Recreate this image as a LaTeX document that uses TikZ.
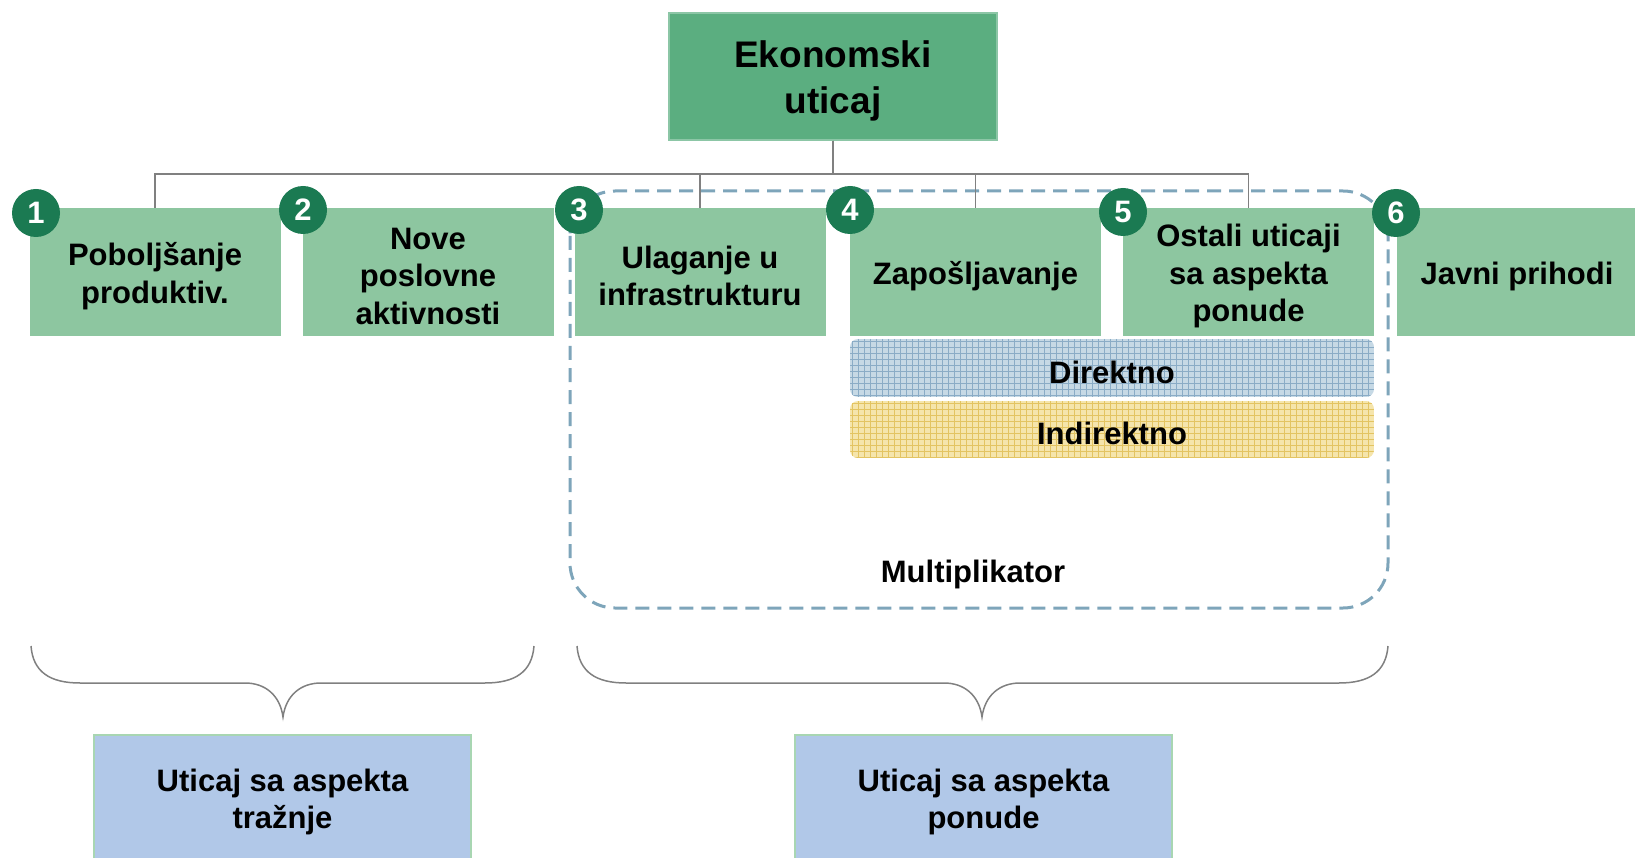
\documentclass[tikz,border=0pt]{standalone}
\usepackage{fontspec}
\setmainfont{Liberation Sans}
\definecolor{topgreen}{RGB}{91,174,128}
\definecolor{boxgreen}{RGB}{141,198,160}
\definecolor{badgegreen}{RGB}{27,122,82}
\definecolor{dashcol}{RGB}{126,165,186}
\definecolor{bluebox}{RGB}{177,200,232}
\definecolor{blueborder}{RGB}{168,214,178}
\definecolor{dirbase}{RGB}{198,217,229}
\definecolor{dirgrid}{RGB}{138,172,198}
\definecolor{indbase}{RGB}{245,229,172}
\definecolor{indgrid}{RGB}{227,196,98}
\definecolor{linegray}{RGB}{128,128,128}
\begin{document}
\begin{tikzpicture}[x=1pt,y=-1pt,
  txt/.style={font=\fontsize{31}{37.5}\selectfont\bfseries, align=center, inner sep=0},
  bigtxt/.style={font=\fontsize{37}{46}\selectfont\bfseries, align=center, inner sep=0},
  topbox/.style={fill=topgreen, draw=topgreen!70!white, line width=1.2, minimum width=328, minimum height=127, inner sep=0},
  gbox/.style={fill=boxgreen, minimum width=251, minimum height=128, inner sep=0},
  badge/.style={circle, fill=badgegreen, text=white, minimum size=48, inner sep=0, font=\fontsize{31}{31}\selectfont\bfseries},
  bbox/.style={fill=bluebox, draw=blueborder, line width=1.5, minimum width=377, minimum height=126, inner sep=0},
  conn/.style={draw=linegray, line width=1.8},
  brace/.style={draw=linegray, line width=1.5},
  down/.style={yshift=-4pt}
]
\useasboundingbox (0,0) rectangle (1635,858);

% multiplier dashed frame
\draw[dashcol, line width=3, dash pattern=on 14pt off 8pt, rounded corners=45] (570,191) rectangle (1388,608);
\node[txt] (mult) at (973,574) {Multiplikator};

% top node
\node[topbox] (top) at (833,76.5) {};
\node[bigtxt, down] (topt) at (top) {Ekonomski\\uticaj};

% category boxes
\node[gbox] (b1) at (155,272) {};
\node[gbox] (b2) at (428,272) {};
\node[gbox] (b3) at (700,272) {};
\node[gbox] (b4) at (975.5,272) {};
\node[gbox] (b5) at (1248.5,272) {};
\node[gbox, minimum width=240] (b6) at (1517,272) {};
\node[txt, down] (t1) at (b1) {Poboljšanje\\produktiv.};
\node[txt, down] (t2) at (b2) {Nove\\poslovne\\aktivnosti};
\node[txt, down] (t3) at (b3) {Ulaganje u\\infrastrukturu};
\node[txt, down] (t4) at (b4) {Zapošljavanje};
\node[txt, down] (t5) at (b5) {Ostali uticaji\\sa aspekta\\ponude};
\node[txt, down] (t6) at (b6) {Javni prihodi};

% connectors
\draw[conn] (top.south) -- ++(0,33.5) -| (b1.north);
\draw[conn] (top.south) -- ++(0,33.5) -| (b3.north);
\draw[conn] (top.south) -- ++(0,33.5) -| (b4.north);
\draw[conn] (top.south) -- ++(0,33.5) -| (b5.north);

% badges
\node[badge] (n1) at (36,213) {1};
\node[badge] (n2) at (303,210) {2};
\node[badge] (n3) at (579,210) {3};
\node[badge] (n4) at (850,210) {4};
\node[badge] (n5) at (1123,212) {5};
\node[badge] (n6) at (1396,213) {6};

% Direktno
\begin{scope}
\clip[rounded corners=8] (850,339) rectangle (1374,397);
\fill[dirbase] (850,339) rectangle (1374,397);
\foreach \x in {852,858,...,1374} \draw[dirgrid, line width=0.8] (\x,339) -- (\x,397);
\foreach \y in {341,347,...,397} \draw[dirgrid, line width=0.8] (850,\y) -- (1374,\y);
\end{scope}
\node[txt] (dir) at (1112,372) {Direktno};

% Indirektno
\begin{scope}
\clip[rounded corners=8] (850,401) rectangle (1374,458);
\fill[indbase] (850,401) rectangle (1374,458);
\foreach \x in {852,858,...,1374} \draw[indgrid, line width=0.8] (\x,401) -- (\x,458);
\foreach \y in {403,409,...,458} \draw[indgrid, line width=0.8] (850,\y) -- (1374,\y);
\end{scope}
\node[txt] (ind) at (1112,433) {Indirektno};

% braces
\draw[brace] (31,646) .. controls (33,672) and (50,683) .. (80,683) -- (245,683)
  .. controls (265,683) and (280,695) .. (283,717)
  .. controls (286,695) and (301,683) .. (321,683) -- (485,683)
  .. controls (515,683) and (532,672) .. (534,646);
\draw[brace] (577,646) .. controls (579,672) and (596,683) .. (626,683) -- (944,683)
  .. controls (964,683) and (979,695) .. (982,717)
  .. controls (985,695) and (1000,683) .. (1020,683) -- (1339,683)
  .. controls (1369,683) and (1386,672) .. (1388,646);

% bottom boxes
\node[bbox] (dem) at (282.5,798) {};
\node[bbox] (sup) at (983.5,798) {};
\node[txt, down] (demt) at (dem) {Uticaj sa aspekta\\tražnje};
\node[txt, down] (supt) at (sup) {Uticaj sa aspekta\\ponude};
\end{tikzpicture}
\end{document}
